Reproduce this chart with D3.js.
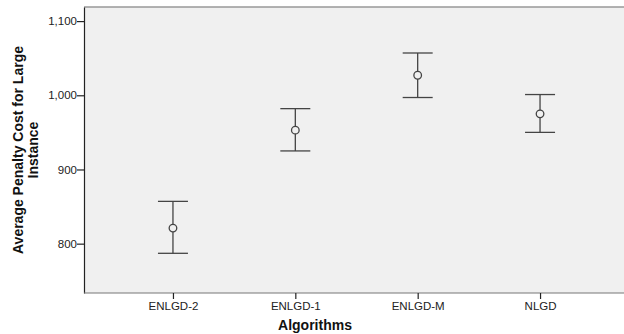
<!DOCTYPE html>
<html>
<head>
<meta charset="utf-8">
<script src="https://cdn.jsdelivr.net/npm/d3@7"></script>
<style>
  body { margin: 0; background: #fff; }
  text { font-family: "Liberation Sans", Arial, sans-serif; }
</style>
</head>
<body>
<script>
// data
const algorithms = ['ENLGD-2', 'ENLGD-1', 'ENLGD-M', 'NLGD'];
const means = [821, 953, 1027, 975];
const lowerCI = [787, 925, 997, 950];
const upperCI = [857, 982, 1057, 1001];
const yTicks = [800, 900, 1000, 1100];

const svgWidth = 624;
const svgHeight = 334;
const plotLeft = 84, plotRight = 629, plotTop = 7, plotBottom = 293;

const svg = d3.select('body').append('svg')
  .attr('width', svgWidth)
  .attr('height', svgHeight);

const x = d3.scalePoint()
  .domain(algorithms)
  .range([plotLeft, plotRight])
  .padding(0.727);

const y = d3.scaleLinear()
  .domain([733.5, 1119])
  .range([plotBottom, plotTop]);

// plot background
svg.append('rect')
  .attr('x', plotLeft).attr('y', plotTop)
  .attr('width', plotRight - plotLeft).attr('height', plotBottom - plotTop)
  .attr('fill', '#f0f0f0');

svg.append('line')
  .attr('x1', plotLeft).attr('x2', plotRight)
  .attr('y1', plotTop).attr('y2', plotTop)
  .attr('stroke', '#999').attr('stroke-width', 1.5);

// axes
const yAxis = svg.append('g')
  .attr('transform', `translate(${plotLeft},0)`)
  .call(d3.axisLeft(y).tickValues(yTicks).tickSize(7).tickSizeOuter(0).tickFormat(d3.format(',')));
yAxis.select('.domain').attr('stroke', '#222').attr('stroke-width', 1.2);
yAxis.selectAll('.tick line').attr('stroke', '#222').attr('stroke-width', 1.2);
yAxis.selectAll('.tick text').attr('x', -7).attr('font-size', 11.5).attr('fill', '#222')
  .attr('font-family', '"Liberation Sans", Arial, sans-serif');

const xAxis = svg.append('g')
  .attr('transform', `translate(0,${plotBottom})`)
  .call(d3.axisBottom(x).tickSize(6).tickSizeOuter(0));
xAxis.select('.domain').attr('d', `M${plotLeft},0H${plotRight}`).attr('stroke', '#777').attr('stroke-width', 1.2);
xAxis.selectAll('.tick line').attr('stroke', '#222').attr('stroke-width', 1.2);
xAxis.selectAll('.tick text').attr('y', 9).attr('font-size', 11.5).attr('fill', '#222')
  .attr('font-family', '"Liberation Sans", Arial, sans-serif');

// error bars
const bars = svg.append('g')
  .selectAll('g')
  .data(algorithms)
  .enter().append('g')
  .attr('stroke', '#444')
  .attr('stroke-width', 1.3)
  .attr('fill', 'none');

bars.append('line')
  .attr('x1', d => x(d)).attr('x2', d => x(d))
  .attr('y1', (d, i) => y(upperCI[i])).attr('y2', (d, i) => y(lowerCI[i]));
bars.append('line')
  .attr('x1', d => x(d) - 15).attr('x2', d => x(d) + 15)
  .attr('y1', (d, i) => y(upperCI[i])).attr('y2', (d, i) => y(upperCI[i]));
bars.append('line')
  .attr('x1', d => x(d) - 15).attr('x2', d => x(d) + 15)
  .attr('y1', (d, i) => y(lowerCI[i])).attr('y2', (d, i) => y(lowerCI[i]));
bars.append('circle')
  .attr('cx', d => x(d))
  .attr('cy', (d, i) => y(means[i]))
  .attr('r', 3.8)
  .attr('fill', '#f0f0f0');

// titles
svg.append('text')
  .attr('x', 315).attr('y', 330)
  .attr('text-anchor', 'middle')
  .attr('font-size', 14).attr('font-weight', 'bold').attr('fill', '#111')
  .text('Algorithms');

const yTitle = svg.append('text')
  .attr('transform', 'translate(0,150) rotate(-90)')
  .attr('text-anchor', 'middle')
  .attr('font-size', 14).attr('font-weight', 'bold').attr('fill', '#111');
yTitle.append('tspan').attr('x', 0).attr('y', 23).text('Average Penalty Cost for Large');
yTitle.append('tspan').attr('x', 0).attr('y', 38).text('Instance');
</script>
</body>
</html>
